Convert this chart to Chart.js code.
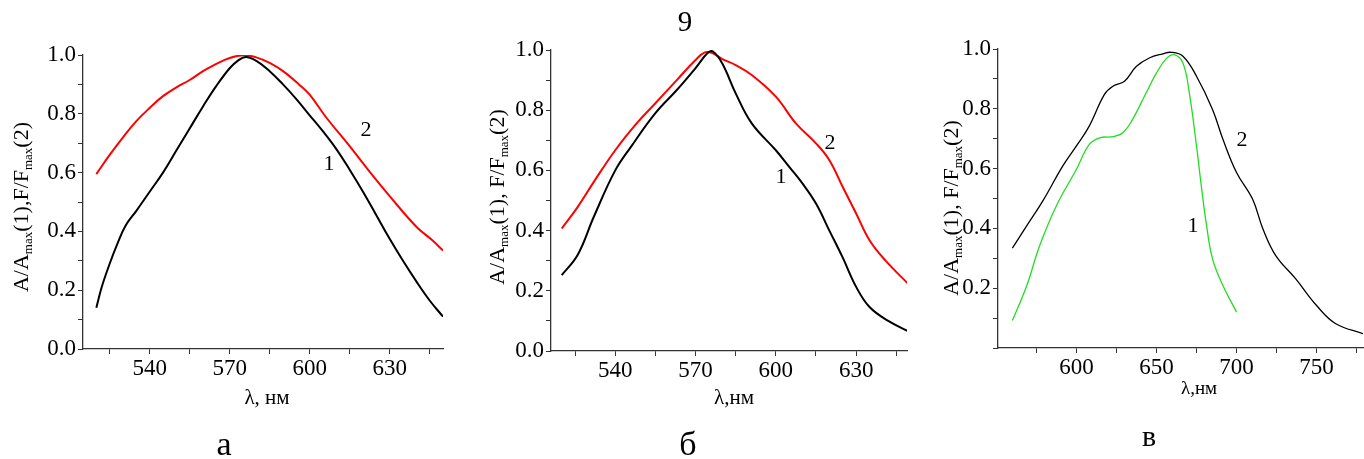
<!DOCTYPE html>
<html>
<head>
<meta charset="utf-8">
<script src="https://cdn.jsdelivr.net/npm/chart.js"></script>
<style>
body { margin: 0; background: #fff; width: 1364px; height: 459px; overflow: hidden; position: relative; }
.panel { position: absolute; top: 0; height: 459px; }
</style>
</head>
<body>
<div class="panel" style="left:0px;width:460px"><canvas id="chartA"></canvas></div>
<div class="panel" style="left:460px;width:470px"><canvas id="chartB"></canvas></div>
<div class="panel" style="left:930px;width:434px"><canvas id="chartC"></canvas></div>
<script>
// panel а
const waveA1 = [520, 522, 525, 528, 531, 535, 540, 545, 550, 555, 560, 565, 570, 573, 576, 580, 585, 590, 595, 600, 605, 610, 615, 620, 625, 630, 635, 640, 645, 650];
const absA1 = [0.14, 0.21, 0.29, 0.36, 0.42, 0.47, 0.535, 0.60, 0.675, 0.75, 0.825, 0.895, 0.955, 0.98, 0.993, 0.98, 0.945, 0.90, 0.85, 0.795, 0.74, 0.68, 0.61, 0.535, 0.455, 0.375, 0.30, 0.23, 0.165, 0.11];
const waveA2 = [520, 525, 530, 535, 540, 545, 550, 555, 560, 565, 570, 575, 580, 585, 590, 596, 600, 606, 615, 621, 630, 640, 646, 650];
const fluA2 = [0.595, 0.66, 0.72, 0.775, 0.82, 0.86, 0.89, 0.915, 0.945, 0.97, 0.99, 0.999, 0.992, 0.973, 0.945, 0.90, 0.865, 0.79, 0.69, 0.62, 0.52, 0.416, 0.37, 0.335];

// panel б
const waveB1 = [520, 526, 532, 540, 546, 555, 563, 570, 574.5, 576.5, 580, 585, 591, 600, 605, 610, 615, 620, 625, 630, 635, 642, 650];
const absB1 = [0.252, 0.32, 0.446, 0.60, 0.68, 0.79, 0.867, 0.94, 0.99, 0.995, 0.955, 0.856, 0.756, 0.667, 0.612, 0.556, 0.49, 0.40, 0.31, 0.213, 0.146, 0.10, 0.063];
const waveB2 = [520, 526, 532, 540, 548, 555, 563, 570, 573.5, 576.5, 580, 585, 591, 600, 607.5, 615, 620, 625, 630, 635, 641, 650];
const fluB2 = [0.407, 0.479, 0.562, 0.667, 0.756, 0.823, 0.90, 0.967, 0.992, 0.989, 0.97, 0.95, 0.917, 0.845, 0.756, 0.69, 0.634, 0.545, 0.457, 0.368, 0.30, 0.218];

// panel в
const waveC1 = [560, 569, 577, 587.5, 600, 608, 614.5, 623, 629, 635, 643.5, 650, 656, 661, 666.5, 670.5, 675, 678, 681, 685, 691.5, 700];
const absC1 = [0.092, 0.209, 0.342, 0.476, 0.598, 0.681, 0.703, 0.707, 0.72, 0.764, 0.853, 0.92, 0.967, 0.981, 0.953, 0.853, 0.676, 0.542, 0.42, 0.298, 0.209, 0.12];
const waveC2 = [560, 569, 579, 591.5, 600, 608, 617.5, 623, 630, 637.5, 645.5, 654, 659, 666.5, 675, 685, 691.5, 700, 710, 716.5, 724.5, 737, 750, 762, 779];
const fluC2 = [0.334, 0.409, 0.492, 0.609, 0.676, 0.742, 0.848, 0.876, 0.892, 0.942, 0.97, 0.984, 0.989, 0.976, 0.909, 0.798, 0.698, 0.587, 0.498, 0.398, 0.309, 0.231, 0.142, 0.081, 0.048];

// axis ticks
const xTicksAB = [525, 540, 555, 570, 585, 600, 615, 630, 645];
const xLabelsAB = [540, 570, 600, 630];
const xTicksC = [575, 600, 625, 650, 675, 700, 725, 750, 775];
const xLabelsC = [600, 650, 700, 750];
const yTicks = [0, 0.1, 0.2, 0.3, 0.4, 0.5, 0.6, 0.7, 0.8, 0.9, 1.0];
const yLabelsAB = [0, 0.2, 0.4, 0.6, 0.8, 1.0];
const yLabelsC = [0.2, 0.4, 0.6, 0.8, 1.0];

const serif = "'Liberation Serif', 'DejaVu Serif', serif";

function toPoints(xs, ys) {
    return xs.map((x, i) => ({ x: x, y: ys[i] }));
}

function lineSet(xs, ys, color, width) {
    return {
        data: toPoints(xs, ys),
        borderColor: color,
        borderWidth: width,
        pointRadius: 0,
        fill: false,
        tension: 0.4
    };
}

function isIn(list, v) {
    return list.some(l => Math.abs(l - v) < 1e-6);
}

// draws the rotated y title with "max" subscripts, plus curve numbers and captions
function textPlugin(texts, yTitle) {
    return {
        id: 'panelText',
        afterDraw(chart) {
            const ctx = chart.ctx;
            ctx.save();
            ctx.fillStyle = '#000';
            ctx.textAlign = 'center';
            ctx.textBaseline = 'middle';
            texts.forEach(t => {
                ctx.font = t.size + 'px ' + serif;
                ctx.fillText(t.text, t.x, t.y);
            });

            const mainFont = '22px ' + serif;
            const subFont = '13px ' + serif;
            let total = 0;
            yTitle.parts.forEach(p => {
                ctx.font = p.sub ? subFont : mainFont;
                total += ctx.measureText(p.t).width;
            });
            ctx.translate(yTitle.x, yTitle.y);
            ctx.rotate(-Math.PI / 2);
            ctx.textAlign = 'left';
            ctx.textBaseline = 'alphabetic';
            let pos = -total / 2;
            yTitle.parts.forEach(p => {
                ctx.font = p.sub ? subFont : mainFont;
                ctx.fillText(p.t, pos, p.sub ? 11 : 7);
                pos += ctx.measureText(p.t).width;
            });
            ctx.restore();
        }
    };
}

function makeChart(id, cfg) {
    const ctx = document.getElementById(id).getContext('2d');
    return new Chart(ctx, {
        type: 'line',
        data: { datasets: cfg.datasets },
        options: {
            responsive: true,
            maintainAspectRatio: false,
            animation: false,
            layout: { padding: cfg.padding },
            plugins: { legend: { display: false }, tooltip: { enabled: false } },
            scales: {
                x: {
                    type: 'linear',
                    min: cfg.xMin,
                    max: cfg.xMax,
                    afterBuildTicks: scale => { scale.ticks = cfg.xTicks.map(v => ({ value: v })); },
                    afterFit: scale => { scale.height = 30; },
                    border: { display: true, color: '#333', width: 1.3 },
                    grid: { drawOnChartArea: false, drawTicks: true, tickLength: 5, color: '#333' },
                    ticks: {
                        autoSkip: false,
                        maxRotation: 0,
                        padding: 1,
                        color: '#000',
                        font: { family: serif, size: 23 },
                        callback: v => isIn(cfg.xLabels, v) ? String(v) : ''
                    }
                },
                y: {
                    type: 'linear',
                    min: 0,
                    max: 1.0,
                    afterBuildTicks: scale => { scale.ticks = yTicks.map(v => ({ value: v })); },
                    afterFit: scale => { scale.width = cfg.yWidth; },
                    border: { display: true, color: '#333', width: 1.3 },
                    grid: { drawOnChartArea: false, drawTicks: true, tickLength: 5, color: '#333' },
                    ticks: {
                        autoSkip: false,
                        padding: 2,
                        color: '#000',
                        font: { family: serif, size: 23 },
                        callback: v => isIn(cfg.yLabels, v) ? v.toFixed(1) : ''
                    }
                }
            }
        },
        plugins: [textPlugin(cfg.texts, cfg.yTitle)]
    });
}

const titleAB = [
    { t: 'A/A' }, { t: 'max', sub: true }, { t: '(1),F/F' }, { t: 'max', sub: true }, { t: '(2)' }
];
const titleSpaced = [
    { t: 'A/A' }, { t: 'max', sub: true }, { t: '(1), F/F' }, { t: 'max', sub: true }, { t: '(2)' }
];

makeChart('chartA', {
    datasets: [lineSet(waveA1, absA1, '#000000', 2), lineSet(waveA2, fluA2, '#ff0000', 2)],
    xMin: 515, xMax: 650,
    xTicks: xTicksAB, xLabels: xLabelsAB, yLabels: yLabelsAB,
    yWidth: 83,
    padding: { left: 0, right: 17, top: 55, bottom: 80 },
    texts: [
        { text: '2', x: 366, y: 130, size: 22 },
        { text: '1', x: 329, y: 164, size: 22 },
        { text: 'λ, нм', x: 267, y: 398, size: 21 },
        { text: 'а', x: 224, y: 446, size: 34 }
    ],
    yTitle: { x: 21, y: 207, parts: titleAB }
});

makeChart('chartB', {
    datasets: [lineSet(waveB1, absB1, '#000000', 2), lineSet(waveB2, fluB2, '#ff0000', 2)],
    xMin: 516, xMax: 649,
    xTicks: xTicksAB, xLabels: xLabelsAB, yLabels: yLabelsAB,
    yWidth: 91,
    padding: { left: 0, right: 23, top: 50, bottom: 78 },
    texts: [
        { text: '9', x: 225, y: 23, size: 29 },
        { text: '2', x: 370, y: 143, size: 22 },
        { text: '1', x: 321, y: 177, size: 22 },
        { text: 'λ,нм', x: 274, y: 398, size: 21 },
        { text: 'б', x: 228, y: 446, size: 34 }
    ],
    yTitle: { x: 37, y: 197, parts: titleSpaced }
});

makeChart('chartC', {
    datasets: [lineSet(waveC1, absC1, '#22dd22', 1.3), lineSet(waveC2, fluC2, '#000000', 1.3)],
    xMin: 551, xMax: 779,
    xTicks: xTicksC, xLabels: xLabelsC, yLabels: yLabelsC,
    yWidth: 68,
    padding: { left: 0, right: 1, top: 49, bottom: 81 },
    texts: [
        { text: '2', x: 312, y: 140, size: 22 },
        { text: '1', x: 263, y: 226, size: 22 },
        { text: 'λ,нм', x: 269, y: 389, size: 19 },
        { text: 'в', x: 219, y: 438, size: 30 }
    ],
    yTitle: { x: 21, y: 208, parts: titleSpaced }
});
</script>
</body>
</html>
